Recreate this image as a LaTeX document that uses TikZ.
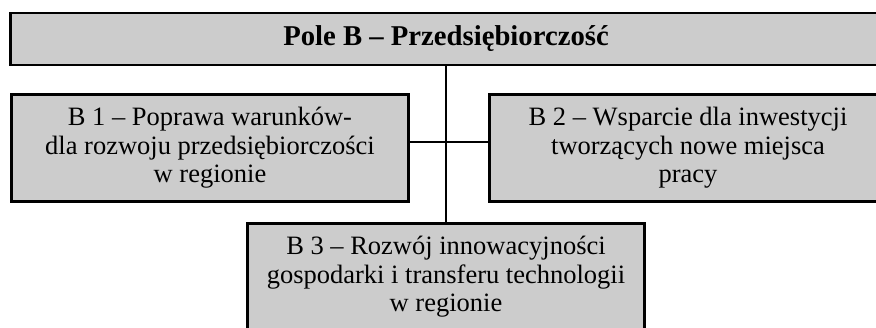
\documentclass[tikz,border=0pt]{standalone}
\usepackage{fontspec}
\setmainfont{Liberation Serif}
\usepackage{tikz}
\usetikzlibrary{calc}
\tikzstyle{field-box} = [rectangle, draw=black, line width=2.6pt, fill=black!20, minimum width=871pt, minimum height=52pt, text centered, font=\fontsize{28.7}{31}\selectfont\bfseries]
\tikzstyle{task-box} = [rectangle, draw=black, line width=2.6pt, fill=black!20, minimum width=397pt, minimum height=107pt, align=center, inner sep=0pt, font=\fontsize{26.5}{28.5}\selectfont]
\tikzstyle{link} = [line width=1.2pt]

\begin{document}
\begin{tikzpicture}[x=1pt, y=1pt]
\useasboundingbox (0,0) rectangle (876,328);

% Field B
\node (pole-b) [field-box] at (446,289) {Pole B -- Przedsiębiorczość};

% tasks
\node (b1) [task-box] at (210,180) {B 1 -- Poprawa warunków-\\dla rozwoju przedsiębiorczości\\w regionie};
\node (b2) [task-box] at (688,180) {B 2 -- Wsparcie dla inwestycji\\tworzących nowe miejsca\\pracy};
\node (b3) [task-box] at (446,51) {B 3 -- Rozwój innowacyjności\\gospodarki i transferu technologii\\w regionie};

\coordinate (junction) at (446,186);
\draw [link] (pole-b.south) -- (b3.north);
\draw [link] (b1.east |- junction) -- (b2.west |- junction);

\end{tikzpicture}
\end{document}
